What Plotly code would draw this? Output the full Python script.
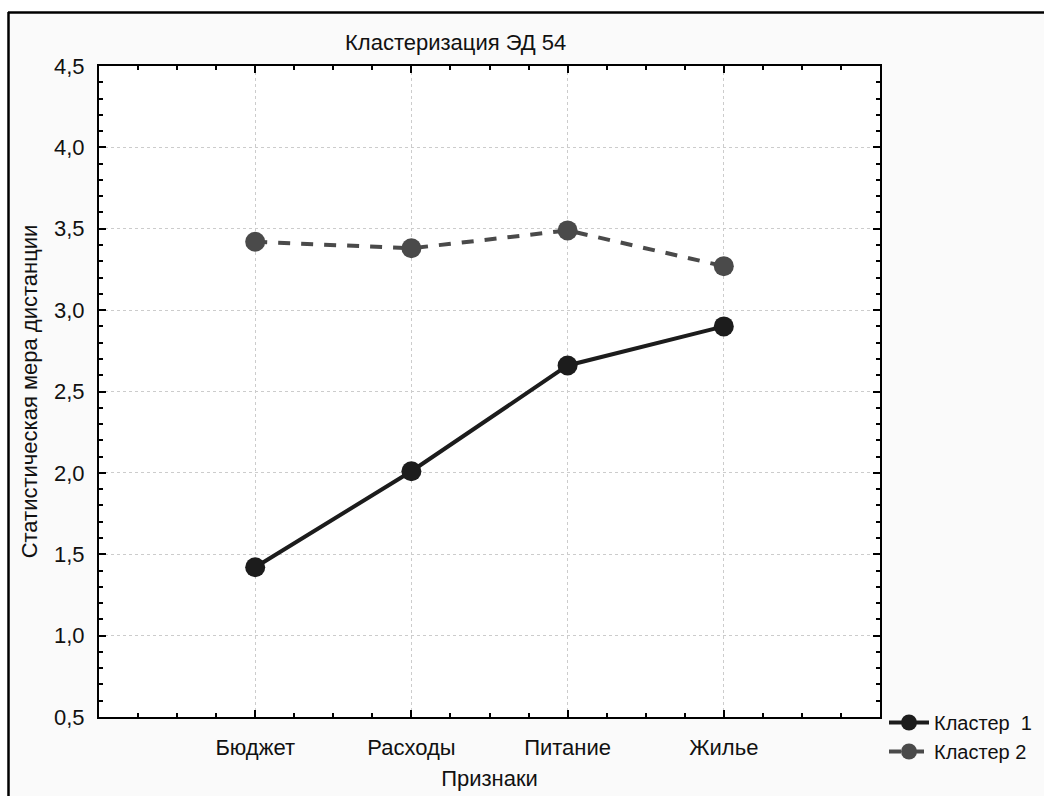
import plotly.graph_objects as go

categories = ["Бюджет", "Расходы", "Питание", "Жилье"]
cluster1 = [1.42, 2.01, 2.66, 2.90]
cluster2 = [3.42, 3.38, 3.49, 3.27]
series_names = ["Кластер  1", "Кластер 2"]
title_text = "Кластеризация ЭД 54"
x_title = "Признаки"
y_title = "Статистическая мера дистанции"

W, H = 1044, 796
L, R, T, B = 99, 880, 66, 717
FONT = "Liberation Sans, Arial, sans-serif"
FS = 22

def px(x):
    return (x - L) / (R - L)

def py(y):
    return (B - y) / (B - T)

xpos = list(range(1, len(categories) + 1))

fig = go.Figure()
fig.add_trace(go.Scatter(
    x=xpos, y=cluster1, name=series_names[0], mode="lines+markers",
    line=dict(color="#1c1c1c", width=4),
    marker=dict(size=20, color="#1c1c1c"),
))
fig.add_trace(go.Scatter(
    x=xpos, y=cluster2, name=series_names[1], mode="lines+markers",
    line=dict(color="#4a4a4a", width=4, dash="12px,11px"),
    marker=dict(size=20, color="#4a4a4a"),
))

fig.update_layout(
    width=W, height=H,
    margin=dict(l=L, r=W - R, t=T, b=H - B, autoexpand=False),
    paper_bgcolor="white",
    plot_bgcolor="white",
    separators=", ",
    font=dict(family=FONT, size=FS, color="#111111"),
    showlegend=True,
    legend=dict(x=px(884), y=py(703), xanchor="left", yanchor="top",
                bgcolor="rgba(0,0,0,0)", font=dict(size=20),
                tracegroupgap=0, itemwidth=40),
    shapes=[
        dict(type="rect", xref="paper", yref="paper",
             x0=px(8), x1=px(W + 5), y0=py(H + 5), y1=py(12),
             fillcolor="#fafafa", line=dict(width=0), layer="below"),
        dict(type="rect", xref="paper", yref="paper",
             x0=0, x1=1, y0=0, y1=1,
             fillcolor="white", line=dict(width=0), layer="below"),
        dict(type="line", xref="paper", yref="paper",
             x0=px(8), x1=px(W + 5), y0=py(12.5), y1=py(12.5),
             line=dict(color="black", width=2.5)),
        dict(type="line", xref="paper", yref="paper",
             x0=px(8.5), x1=px(8.5), y0=py(12), y1=py(H + 5),
             line=dict(color="black", width=2.5)),
    ],
    annotations=[
        dict(text=title_text, xref="paper", yref="paper",
             x=px(455), y=py(43), xanchor="center", yanchor="middle",
             showarrow=False, font=dict(size=FS)),
    ],
)

fig.update_xaxes(
    range=[0, len(categories) + 1],
    tickmode="array", tickvals=xpos, ticktext=categories,
    ticks="inside", ticklen=7, tickwidth=2, tickcolor="black",
    showline=True, linecolor="black", linewidth=2, mirror="ticks",
    showgrid=True, gridcolor="#cccccc", griddash="dot", gridwidth=1,
    zeroline=False, automargin=False,
    minor=dict(dtick=0.25, tick0=0, ticks="inside", ticklen=4,
               tickwidth=2, tickcolor="black", showgrid=False),
    ticklabelstandoff=10,
    title=dict(text=x_title, standoff=11, font=dict(size=FS)),
)
fig.update_yaxes(
    range=[0.5, 4.5], tickmode="linear", tick0=0.5, dtick=0.5,
    tickformat=".1f",
    ticks="inside", ticklen=7, tickwidth=2, tickcolor="black",
    showline=True, linecolor="black", linewidth=2, mirror="ticks",
    showgrid=True, gridcolor="#cccccc", griddash="dot", gridwidth=1,
    zeroline=False, automargin=False,
    minor=dict(dtick=0.1, tick0=0.5, ticks="inside", ticklen=4,
               tickwidth=2, tickcolor="black", showgrid=False),
    ticklabelstandoff=8,
    title=dict(text=y_title, standoff=10, font=dict(size=FS)),
)

fig.write_html("out.html", config={"displayModeBar": False},
               post_script="document.body.style.margin='0';document.body.style.overflow='hidden';")
